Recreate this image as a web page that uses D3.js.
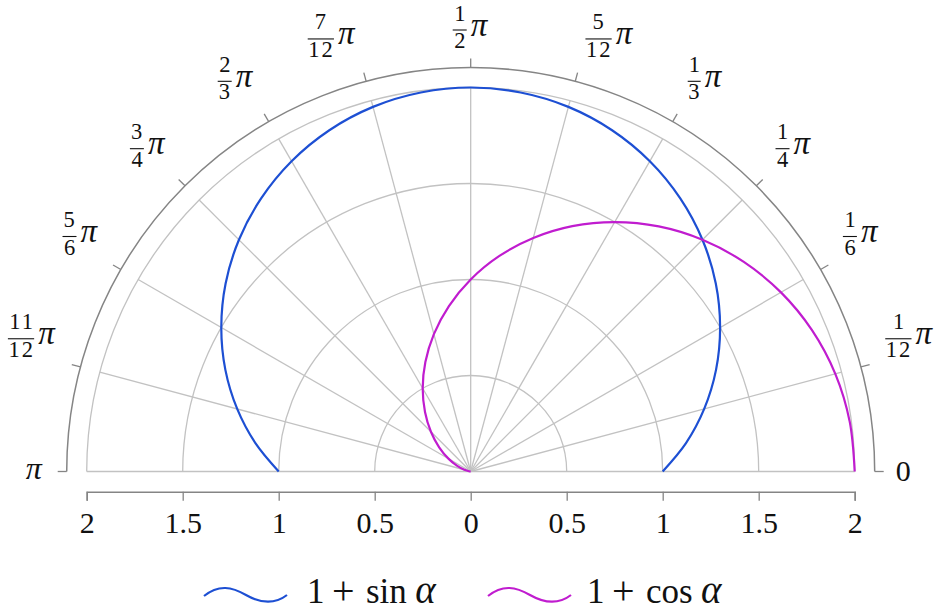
<!DOCTYPE html>
<html>
<head>
<meta charset="utf-8">
<script src="https://cdn.jsdelivr.net/npm/d3@7"></script>
<style>
  html, body { margin: 0; padding: 0; background: #fff; }
  svg { display: block; }
</style>
</head>
<body>
<svg id="chart" width="946" height="613"></svg>
<script>
// ---------------- data ----------------
const alphaDeg = [0, 7.5, 15, 22.5, 30, 37.5, 45, 52.5, 60, 67.5, 75, 82.5, 90,
                  97.5, 105, 112.5, 120, 127.5, 135, 142.5, 150, 157.5, 165, 172.5, 180];
const rOnePlusSin = [1.000, 1.131, 1.259, 1.383, 1.500, 1.609, 1.707, 1.793, 1.866, 1.924, 1.966, 1.991, 2.000,
                     1.991, 1.966, 1.924, 1.866, 1.793, 1.707, 1.609, 1.500, 1.383, 1.259, 1.131, 1.000];
const rOnePlusCos = [2.000, 1.991, 1.966, 1.924, 1.866, 1.793, 1.707, 1.609, 1.500, 1.383, 1.259, 1.131, 1.000,
                     0.869, 0.741, 0.617, 0.500, 0.391, 0.293, 0.207, 0.134, 0.076, 0.034, 0.009, 0.000];
const seriesFunc = ["sin", "cos"];
const seriesColors = ["#1d4fd3", "#c01ccf"];

const angleTicksDeg = [0, 15, 30, 45, 60, 75, 90, 105, 120, 135, 150, 165, 180];
const angleTickNum  = ["0", "1", "1", "1", "1", "5", "1", "7", "2", "3", "5", "11", ""];
const angleTickDen  = ["",  "12", "6", "4", "3", "12", "2", "12", "3", "4", "6", "12", ""];
const gridRadii = [0.5, 1, 1.5, 2];
const radialTicks = [-2, -1.5, -1, -0.5, 0, 0.5, 1, 1.5, 2];

// ---------------- font selection ----------------
function fontAvailable(name) {
  const c = document.createElement("canvas").getContext("2d");
  const s = "mmmmmmmmmwwwwwlli1.5+sin";
  return ["monospace", "sans-serif"].some(base => {
    c.font = `40px ${base}`;
    const w0 = c.measureText(s).width;
    c.font = `40px "${name}", ${base}`;
    return Math.abs(c.measureText(s).width - w0) > 0.5;
  });
}
const serifCandidates = ["Liberation Serif", "DejaVu Serif", "Noto Serif", "Tinos", "Times New Roman", "FreeSerif"];
const serifFont = serifCandidates.find(fontAvailable);
const FONT = serifFont ? `"${serifFont}", serif` : "serif";

const mctx = document.createElement("canvas").getContext("2d");
function measure(text, size, italic, ls) {
  mctx.font = `${italic ? "italic " : ""}${size}px ${FONT}`;
  const r = mctx.measureText(text);
  const extra = (ls || 0) * (text.length - 1);
  return { w: r.width + (ls || 0) * text.length, l: -r.actualBoundingBoxLeft,
           r: r.actualBoundingBoxRight + extra, asc: r.actualBoundingBoxAscent, desc: r.actualBoundingBoxDescent };
}

// ---------------- layout ----------------
const svg = d3.select("#chart");
const cx = 470.7, cy = 471.5;
const rScale = d3.scaleLinear().domain([0, 2]).range([0, 384]);
const xScale = d3.scaleLinear().domain([-2, 2]).range([cx - 384, cx + 384]);
const outerR = 404;
const gridColor = "#c2c2c2", axisColor = "#858585";
const toRad = d => d * Math.PI / 180;

const g = svg.append("g").attr("transform", `translate(${cx},${cy})`);

gridRadii.forEach(rv => {
  const p = d3.path();
  p.arc(0, 0, rScale(rv), Math.PI, 2 * Math.PI);
  g.append("path").attr("d", p.toString()).attr("fill", "none")
    .attr("stroke", gridColor).attr("stroke-width", 1.3);
});
angleTicksDeg.filter(a => a > 0 && a < 180).forEach(a => {
  const t = toRad(a);
  g.append("line").attr("x1", 0).attr("y1", 0)
    .attr("x2", rScale(2) * Math.cos(t)).attr("y2", -rScale(2) * Math.sin(t))
    .attr("stroke", gridColor).attr("stroke-width", 1.3);
});
g.append("line").attr("x1", -rScale(2)).attr("x2", rScale(2)).attr("y1", 0).attr("y2", 0)
  .attr("stroke", gridColor).attr("stroke-width", 1.6);

{
  const p = d3.path();
  p.arc(0, 0, outerR, Math.PI, 2 * Math.PI);
  g.append("path").attr("d", p.toString()).attr("fill", "none")
    .attr("stroke", axisColor).attr("stroke-width", 1.5);
  angleTicksDeg.forEach(a => {
    const t = toRad(a);
    g.append("line")
      .attr("x1", outerR * Math.cos(t)).attr("y1", -outerR * Math.sin(t))
      .attr("x2", (outerR + 9) * Math.cos(t)).attr("y2", -(outerR + 9) * Math.sin(t))
      .attr("stroke", axisColor).attr("stroke-width", 1.3);
  });
}

const radialLine = d3.lineRadial()
  .angle(d => Math.PI / 2 - toRad(d.a))
  .radius(d => rScale(d.r))
  .curve(d3.curveCatmullRom);
[rOnePlusSin, rOnePlusCos].forEach((arr, i) => {
  const pts = alphaDeg.map((a, k) => ({ a: a, r: arr[k] }));
  g.append("path").attr("d", radialLine(pts)).attr("fill", "none")
    .attr("stroke", seriesColors[i]).attr("stroke-width", 2.2);
});

// angle tick labels
const piFS = 33, fracFS = 22.5, fracLS = 2, plainFS = 30;
angleTicksDeg.forEach((a, i) => {
  const lg = svg.append("g").style("font-family", FONT).attr("fill", "#111");
  let x0, x1, y0, y1;
  if (angleTickDen[i] === "") {
    const italic = a === 180;
    const s = italic ? "π" : angleTickNum[i];
    const fs = italic ? 32 : plainFS;
    const txt = lg.append("text").attr("x", 0).attr("y", 0).attr("font-size", fs).text(s);
    if (italic) txt.style("font-style", "italic");
    const mm = measure(s, fs, italic, 0);
    x0 = mm.l; x1 = mm.r; y0 = -mm.asc; y1 = mm.desc;
  } else {
    const mn = measure(angleTickNum[i], fracFS, false, fracLS);
    const md = measure(angleTickDen[i], fracFS, false, fracLS);
    const W = Math.max(mn.r - mn.l, md.r - md.l) + 3;
    const numBase = -9.5, denBase = 3 + md.asc;
    lg.append("text").attr("font-size", fracFS).attr("letter-spacing", fracLS)
      .attr("x", (W - (mn.r - mn.l)) / 2 - mn.l).attr("y", numBase).text(angleTickNum[i]);
    lg.append("text").attr("font-size", fracFS).attr("letter-spacing", fracLS)
      .attr("x", (W - (md.r - md.l)) / 2 - md.l).attr("y", denBase).text(angleTickDen[i]);
    lg.append("line").attr("x1", 0).attr("x2", W).attr("y1", 0).attr("y2", 0)
      .attr("stroke", "#111").attr("stroke-width", 1.1);
    const mp = measure("π", piFS, true, 0);
    lg.append("text").attr("font-size", piFS).attr("x", W + 4 - mp.l).attr("y", 5.5)
      .style("font-style", "italic").text("π");
    x0 = 0; x1 = W + 4 + (mp.r - mp.l); y0 = numBase - mn.asc; y1 = denBase + md.desc;
  }
  const pad = 5;
  x0 -= pad; x1 += pad; y0 -= pad; y1 += pad;
  const t = toRad(a);
  let ax, ay, R;
  if (a === 0) { ax = x0; ay = (y0 + y1) / 2; R = 421; }
  else if (a === 180) { ax = x1; ay = (y0 + y1) / 2; R = 423; }
  else if (a === 90) { ax = (x0 + x1) / 2; ay = y1; R = 418.5; }
  else if (a < 90) { ax = x0; ay = y1; R = 424; }
  else { ax = x1; ay = y1; R = 424; }
  const px = cx + R * Math.cos(t), py = cy - R * Math.sin(t);
  lg.attr("transform", `translate(${px - ax},${py - ay})`);
});

// bottom radial axis
const axis = d3.axisBottom(xScale)
  .tickValues(radialTicks)
  .tickFormat(d => String(Math.abs(d)))
  .tickSize(9).tickSizeOuter(9).tickPadding(9);
const ax = svg.append("g").attr("transform", `translate(0,${cy + 20.2})`).call(axis);
ax.attr("font-family", null).attr("font-size", null);
ax.select(".domain").attr("stroke", axisColor).attr("stroke-width", 1.5);
ax.selectAll(".tick line").attr("stroke", axisColor).attr("stroke-width", 1.3);
ax.selectAll(".tick text").attr("font-size", 30).attr("fill", "#111")
  .style("font-family", FONT).attr("dy", null).attr("y", 41);

// legend
const legendX = [204, 488];
const legendTextX = [310, 590];
const legendY = 596, legendBase = 603, legendFS = 35;
seriesFunc.forEach((fn, i) => {
  const x = legendX[i];
  const p = `M${x},${legendY} C${x + 15},${legendY - 12} ${x + 28},${legendY - 9} ${x + 42},${legendY - 1} C${x + 56},${legendY + 7} ${x + 70},${legendY + 9} ${x + 83},${legendY - 1}`;
  svg.append("path").attr("d", p).attr("fill", "none")
    .attr("stroke", seriesColors[i]).attr("stroke-width", 2.2);
  const tx0 = legendTextX[i];
  const lt = svg.append("g").style("font-family", FONT).attr("fill", "#111").attr("font-size", legendFS);
  const m1 = measure("1", legendFS, false, 0);
  lt.append("text").attr("x", tx0 - m1.l).attr("y", legendBase).text("1");
  const mp = measure("+", 40, false, 0);
  lt.append("text").attr("x", tx0 + 24 - mp.l).attr("y", legendBase + 1).attr("font-size", 40).text("+");
  const mf = measure(fn, legendFS, false, 0);
  lt.append("text").attr("x", tx0 + 57 - mf.l).attr("y", legendBase).text(fn);
  const ma = measure("α", 39, true, 0);
  lt.append("text").attr("x", tx0 + 57 + (mf.r - mf.l) + 10 - ma.l).attr("y", legendBase)
    .attr("font-size", 39).style("font-style", "italic").text("α");
});
</script>
</body>
</html>
